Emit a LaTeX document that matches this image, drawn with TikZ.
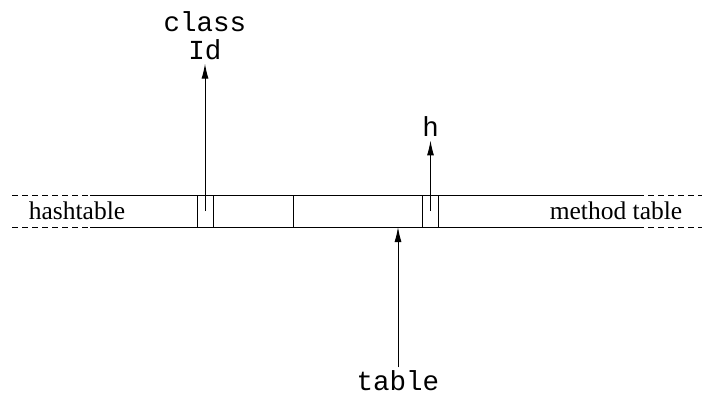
\documentclass[tikz,border=0pt]{standalone}
\usepackage{fontspec}
\setmainfont{Liberation Serif}
\setmonofont{Liberation Mono}
\usetikzlibrary{arrows.meta}
\usetikzlibrary{positioning}

\begin{document}
\begin{tikzpicture}[x=1pt,y=-1pt,line width=1pt,
          slot/.style={draw,minimum width=16pt,minimum height=32pt,inner sep=0pt},
          lbl/.style={font=\fontsize{25.5}{28}\selectfont,inner sep=0pt},
          code/.style={font=\fontsize{27.5}{28}\ttfamily,align=center,inner sep=3pt},
          ptr/.style={-{Latex[length=15pt,width=7pt]}}]
          \useasboundingbox (0,0) rectangle (702,400);
          % the table strip
          \draw (90,195) -- (638,195);
          \draw (90,227) -- (638,227);
          \draw[dash pattern=on 6pt off 4pt] (12,195) -- (90,195) (12,227) -- (90,227);
          \draw[dash pattern=on 6pt off 4pt] (638,195) -- (702,195) (638,227) -- (702,227);
          \draw (293,195) -- (293,227);
          \node[slot](s1) at (205,211){};
          \node[slot](s2) at (430.5,211){};
          \coordinate (p1) at (205,211);
          \coordinate (p2) at (430.5,211);
          \coordinate (bot) at (398,227);
          \node[lbl](ht) at (77,211){hashtable};
          \node[lbl](mt) at (616,211){method table};
          \node[code](cls) at (205,36){class\\Id};
          \node[code](h) at (430.5,127){h};
          \node[code](tbl) at (398,381){table};
          \draw[ptr](p1)--(cls.south);
          \draw[ptr](p2)--(h.south);
          \draw[ptr](tbl.north)--(bot);
        \end{tikzpicture}
\end{document}
